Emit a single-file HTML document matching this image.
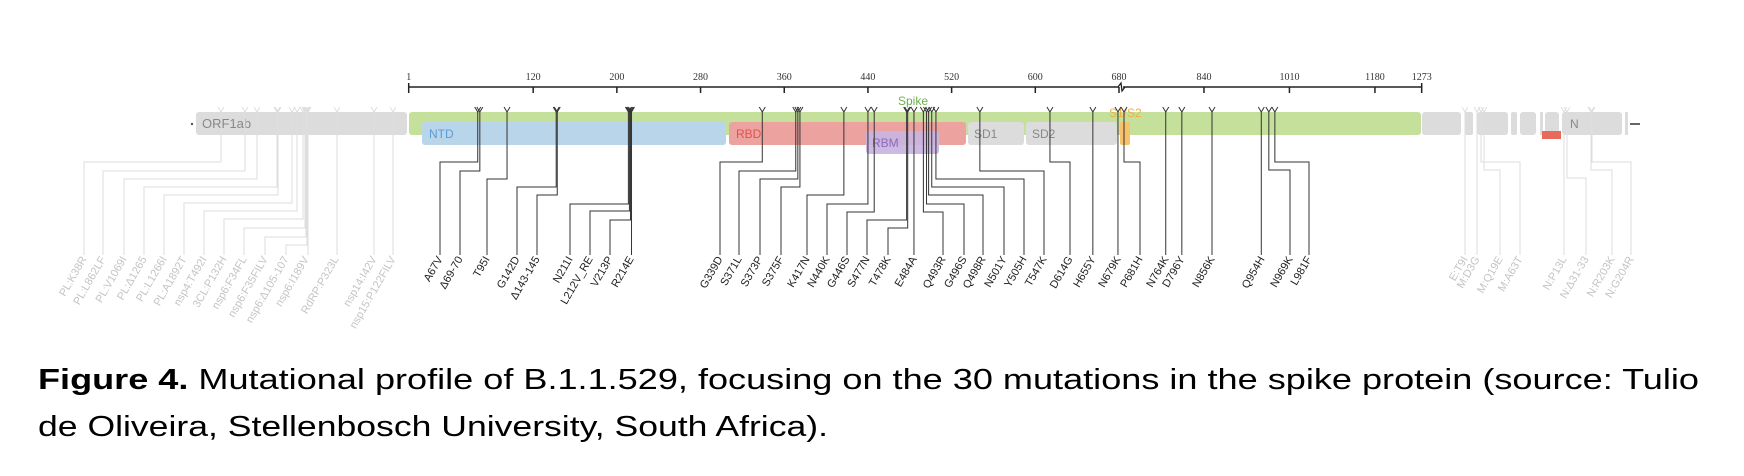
<!DOCTYPE html>
<html><head><meta charset="utf-8"><style>
html,body{margin:0;padding:0;background:#fff;width:1744px;height:476px;overflow:hidden}
svg{display:block;font-family:"Liberation Sans",sans-serif}
</style></head><body>
<svg id="fig" width="1744" height="476" viewBox="0 0 1744 476">
<g id="axis"></g>
<g id="boxes">
  <circle cx="192" cy="124" r="1.2" fill="#555"/>
  <rect x="196" y="112" width="211" height="23" rx="3" fill="#dcdcdc"/>
  <text x="202" y="128" font-size="13" fill="#888">ORF1ab</text>
  <rect x="409" y="112" width="1012" height="23" rx="3" fill="#c5e09b"/>
  <text x="913" y="105" font-size="12" fill="#6fb04a" text-anchor="middle">Spike</text>
  <rect x="422" y="122" width="304" height="23" rx="3" fill="#b9d5ea"/>
  <text x="429" y="138" font-size="12" fill="#5b9bd5">NTD</text>
  <rect x="729" y="122" width="237" height="23" rx="3" fill="#eca3a0"/>
  <text x="736" y="138" font-size="12" fill="#e0524f">RBD</text>
  <rect x="866" y="131" width="73" height="23" rx="3" fill="#c8b4df" opacity="0.92"/>
  <text x="872" y="147" font-size="12" fill="#8b6bbf">RBM</text>
  <rect x="968" y="122" width="56" height="23" rx="3" fill="#dcdcdc"/>
  <text x="974" y="138" font-size="12" fill="#888">SD1</text>
  <rect x="1026" y="122" width="91" height="23" rx="3" fill="#dcdcdc"/>
  <text x="1032" y="138" font-size="12" fill="#888">SD2</text>
  <rect x="1120" y="122" width="10" height="23" rx="2" fill="#f6c36a"/>
  <text x="1109" y="117" font-size="12" fill="#f0b040">S1/S2</text>
  <rect x="1422" y="112" width="39" height="23" rx="3" fill="#dcdcdc"/>
  <rect x="1465" y="112" width="8" height="23" rx="2" fill="#dcdcdc"/>
  <rect x="1477" y="112" width="31" height="23" rx="3" fill="#dcdcdc"/>
  <rect x="1511" y="112" width="6" height="23" rx="2" fill="#dcdcdc"/>
  <rect x="1520" y="112" width="16" height="23" rx="3" fill="#dcdcdc"/>
  <rect x="1540" y="112" width="3" height="23" fill="#dcdcdc"/>
  <rect x="1545" y="112" width="14" height="23" rx="3" fill="#dcdcdc"/>
  <rect x="1562" y="112" width="60" height="23" rx="3" fill="#dcdcdc"/>
  <text x="1570" y="128" font-size="12" fill="#888">N</text>
  <rect x="1625" y="112" width="3" height="23" fill="#dcdcdc"/>
  <line x1="1630" y1="124" x2="1640" y2="124" stroke="#333" stroke-width="1.5"/>
  <rect x="1542" y="131" width="19" height="8" fill="#e86a5a"/>
</g>
<g id="muts"></g>
<g>
  <text x="38" y="389" font-size="29" fill="#000" textLength="1661" lengthAdjust="spacingAndGlyphs"><tspan font-weight="bold">Figure 4.</tspan> Mutational profile of B.1.1.529, focusing on the 30 mutations in the spike protein (source: Tulio</text>
  <text x="38" y="436" font-size="29" fill="#000" textLength="790" lengthAdjust="spacingAndGlyphs">de Oliveira, Stellenbosch University, South Africa).</text>
</g>
</svg>
<script>
// Axis ticks (amino-acid positions)
const tickValues = [1,120,200,280,360,440,520,600,680,840,1010,1180,1273];
// Spike mutations (black)
const spikeNames = ["A67V","Δ69-70","T95I","G142D","Δ143-145","N211I","L212V_RE","V213P","R214E","G339D","S371L","S373P","S375F","K417N","N440K","G446S","S477N","T478K","E484A","Q493R","G496S","Q498R","N501Y","Y505H","T547K","D614G","H655Y","N679K","P681H","N764K","D796Y","N856K","Q954H","N969K","L981F"];
const spikePos = [67,69,95,142,143,211,212,213,214,339,371,373,375,417,440,446,477,478,484,493,496,498,501,505,547,614,655,679,681,764,796,856,954,969,981];
// Label slots (layout) and elbow levels (0 = straight)
const spikeLabelX = [440,460,487,517,537,570,590,610,631,720,739,760,781,807,827,847,867,888,914,943,964,983,1004,1024,1044,1070,1093,1118,1140,1166,1182,1212,1262,1290,1309];
const spikeElbow = [162,171,179,187,195,204,211,220,0,162,171,179,187,195,204,212,220,228,0,212,204,195,187,179,171,162,0,0,162,0,0,0,0,170,162];
// Other genes (grey): label, top x, label x, elbow
const greyNames = ["PL:K38R","PL:L862LF","PL:V1069I","PL:Δ1265","PL:L1266I","PL:A1892T","nsp4:T492I","3CL:P132H","nsp6:F34FL","nsp6:F35FILV","nsp6:Δ105-107","nsp6:I189V","RdRP:P323L","nsp14:I42V","nsp15:P122FILV","E:T9I","M:D3G","M:Q19E","M:A63T","N:P13L","N:Δ31-33","N:R203K","N:G204R"];
const greyTop = [221,245,257,277,278,292,297,303,305,306,307,308,337,374,393,1465,1477,1484,1481,1564,1567,1591,1592];
const greyLabelX = [84,103,124,144,164,184,204,224,244,265,286,306,336,374,393,1465,1477,1500,1520,1564,1586,1612,1631];
const greyElbow = [162,171,179,187,195,203,211,219,228,237,245,0,0,0,0,0,0,170,162,0,178,170,162];

const NS="http://www.w3.org/2000/svg";
function x(v){ return v<=680 ? 408.7+(v-1)*(1119-408.7)/679 : 1123.5+(v-680)*(1421.7-1123.5)/593; }
function mk(tag,attrs,parent){const e=document.createElementNS(NS,tag);for(const k in attrs)e.setAttribute(k,attrs[k]);parent.appendChild(e);return e;}
const ax=document.getElementById('axis');
let l=mk('line',{x1:x(1),y1:87,x2:x(680),y2:87,stroke:'#222','stroke-width':1.5},ax);


l=mk('line',{x1:x(680)+4,y1:87,x2:x(1273),y2:87,stroke:'#222','stroke-width':1.5},ax);


l=mk('path',{d:`M${x(680)-1} 87 L${x(680)+2} 83 L${x(680)+3} 91 L${x(680)+6} 87`,stroke:'#222',fill:'none','stroke-width':1.3},ax);


tickValues.forEach((t,i)=>{
  const end=(i===0||i===tickValues.length-1);
  const tk=mk('line',{x1:x(t),y1:end?83:87,x2:x(t),y2:93,stroke:'#222','stroke-width':1.5},ax);
  
  
  const tl=mk('text',{x:x(t),y:80,'font-size':10,'text-anchor':'middle',fill:'#333','font-family':'Liberation Serif, serif'},ax);
  tl.textContent=t;
  
  
});
const mg=document.getElementById('muts');
function drawMut(name,tx,lx,ey,col,tcol,markerY){
  const g=mk('g',{},mg);
  
  
  mk('path',{d:`M${tx-3} ${markerY-5} L${tx} ${markerY} L${tx+3} ${markerY-5}`,stroke:col,fill:'none','stroke-width':1},g);
  const d= ey ? `M${tx} ${markerY} V${ey} H${lx} V255` : `M${tx} ${markerY} V255`;
  mk('path',{d:d,stroke:col,fill:'none','stroke-width':1},g);
  const t=mk('text',{x:lx+3,y:259,'font-size':11,'text-anchor':'end',fill:tcol,transform:`rotate(-60 ${lx+3} 259)`},g);
  t.textContent=name;
}
spikeNames.forEach((n,i)=>drawMut(n,x(spikePos[i]),spikeLabelX[i],spikeElbow[i],'#333','#222',112));
greyNames.forEach((n,i)=>drawMut(n,greyTop[i],greyLabelX[i],greyElbow[i],'#dedede','#c4c4c4',112));
</script>
</body></html>
